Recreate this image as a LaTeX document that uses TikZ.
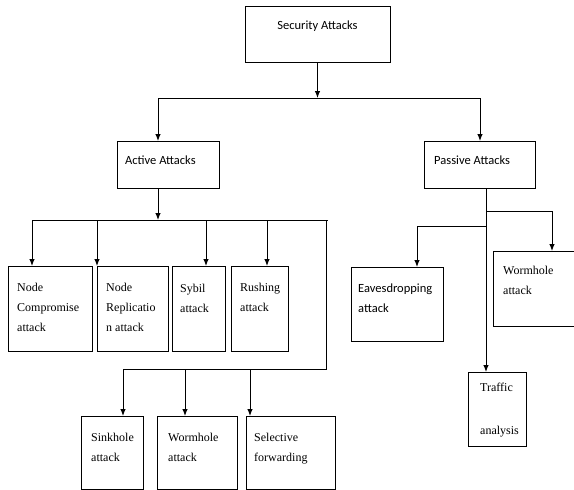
\documentclass[tikz,border=0pt]{standalone}
\usepackage{fontspec}
\setmainfont{Liberation Serif}
\newfontfamily\calfont{Carlito}
\usepackage{tikz}
\usetikzlibrary{arrows.meta}

\tikzset{
	box/.style={draw, line width=1pt, inner sep=0, outer sep=0, anchor=north west},
	lbl/.style={inner sep=0, anchor=north west, align=left, font=\fontsize{12}{20}\selectfont},
	slbl/.style={inner sep=0, anchor=north west, align=left, font=\calfont\fontsize{12.5}{20}\selectfont},
	arr/.style={-{Latex[length=7pt,width=5.5pt]}, line width=1pt},
	ln/.style={line width=1pt}
}

\begin{document}
\begin{tikzpicture}[x=1pt,y=-1pt]
	\newcommand\rowtop{266}
	\newcommand\rowh{85}
	\newcommand\lowtop{416}
	\newcommand\lowh{73}

	\useasboundingbox (0,0) rectangle (574,490);

	% root and the two classes
	\node[box, minimum width=145, minimum height=56] (sec) at (245,6) {};
	\node[slbl, anchor=base] (sect) at ([yshift=-23]sec.north) {Security Attacks};
	\node[box, minimum width=102, minimum height=47] (active) at (117,141) {};
	\node[slbl, anchor=base west] (actt) at ([shift={(8,23)}]active.north west) {Active Attacks};
	\node[box, minimum width=111, minimum height=47] (passive) at (424,141) {};
	\node[slbl, anchor=base west] (passt) at ([shift={(10,23)}]passive.north west) {Passive Attacks};

	% active attacks, first row
	\node[box, minimum width=84, minimum height=\rowh] (ncomp) at (8,\rowtop) {};
	\node[lbl] (ncompt) at ([shift={(9,17)}]ncomp.north west) {Node\\Compromise\\attack};
	\node[box, minimum width=71, minimum height=\rowh] (nrep) at (97,\rowtop) {};
	\node[lbl] (nrept) at ([shift={(9,17)}]nrep.north west) {Node\\Replicatio\\n attack};
	\node[box, minimum width=53, minimum height=\rowh] (sybil) at (172,\rowtop) {};
	\node[lbl] (sybilt) at ([shift={(8,18)}]sybil.north west) {Sybil\\attack};
	\node[box, minimum width=57, minimum height=\rowh] (rush) at (231,\rowtop) {};
	\node[lbl] (rusht) at ([shift={(9,17)}]rush.north west) {Rushing\\attack};

	% active attacks, second row
	\node[box, minimum width=62, minimum height=\lowh] (sink) at (81,\lowtop) {};
	\node[lbl] (sinkt) at ([shift={(10,17)}]sink.north west) {Sinkhole\\attack};
	\node[box, minimum width=80, minimum height=\lowh] (worm) at (157,\lowtop) {};
	\node[lbl] (wormt) at ([shift={(11,17)}]worm.north west) {Wormhole\\attack};
	\node[box, minimum width=89, minimum height=\lowh] (sel) at (246,\lowtop) {};
	\node[lbl] (selt) at ([shift={(8,17)}]sel.north west) {Selective\\forwarding};

	% passive attacks
	\node[box, minimum width=92, minimum height=74] (eaves) at (351,267) {};
	\node[slbl] (eavest) at ([shift={(7,17)}]eaves.north west) {Eavesdropping\\attack};
	\node[box, minimum width=90, minimum height=75] (worm2) at (493,251) {};
	\node[lbl] (worm2t) at ([shift={(10,15)}]worm2.north west) {Wormhole\\attack};
	\node[box, minimum width=58, minimum height=74] (traffic) at (468,372) {};
	\node[lbl] (traft) at ([shift={(12,11)}]traffic.north west) {Traffic\\[23pt]analysis};

	% root to classes
	\coordinate (b1l) at (158,98);
	\coordinate (b1r) at (480,98);
	\draw[arr] (sec.south) -- (sec.south |- b1l);
	\draw[ln] (b1l) -- (b1r);
	\draw[arr] (b1l) -- (b1l |- active.north);
	\draw[arr] (b1r) -- (b1r |- passive.north);

	% active branch
	\coordinate (b2l) at (32,220);
	\coordinate (b2r) at (328,220);
	\draw[arr] (b1l |- active.south) -- (b1l |- b2l);
	\draw[ln] (b2l) -- (b2r);
	\coordinate (d2) at (97,220);
	\coordinate (d3) at (206,220);
	\coordinate (d4) at (267,220);
	\draw[arr] (b2l) -- (b2l |- ncomp.north);
	\draw[arr] (d2) -- (d2 |- nrep.north);
	\draw[arr] (d3) -- (d3 |- sybil.north);
	\draw[arr] (d4) -- (d4 |- rush.north);

	\coordinate (b3r) at (326,369);
	\coordinate (b3l) at (123,369);
	\coordinate (e2) at (185,369);
	\coordinate (e3) at (250,369);
	\draw[ln] (b3r |- b2r) -- (b3r) -- (b3l);
	\draw[arr] (b3l) -- (b3l |- sink.north);
	\draw[arr] (e2) -- (e2 |- worm.north);
	\draw[arr] (e3) -- (e3 |- sel.north);

	% passive branch
	\coordinate (pv) at (486,211);
	\coordinate (pr) at (552,211);
	\coordinate (pl) at (417,226);
	\draw[arr] (pv |- passive.south) -- (pv |- traffic.north);
	\draw[ln] (pv) -- (pr);
	\draw[arr] (pr) -- (pr |- worm2.north);
	\draw[ln] (pv |- pl) -- (pl);
	\draw[arr] (pl) -- (pl |- eaves.north);
\end{tikzpicture}
\end{document}
